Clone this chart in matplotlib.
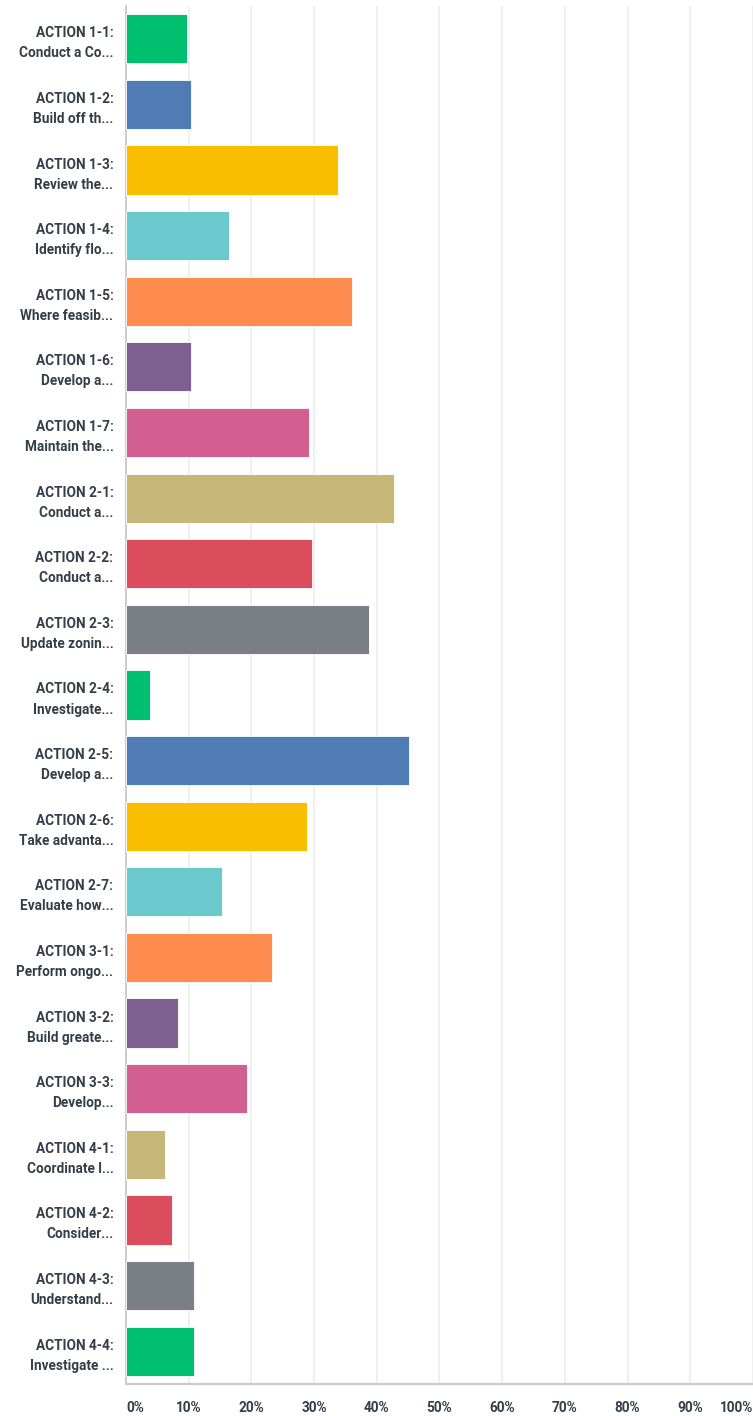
import numpy as np
import matplotlib
matplotlib.use("Agg")
import matplotlib.pyplot as plt

# answer choices (two-line labels) and share of respondents in percent
actions = ["ACTION 1-1:", "ACTION 1-2:", "ACTION 1-3:", "ACTION 1-4:", "ACTION 1-5:",
           "ACTION 1-6:", "ACTION 1-7:", "ACTION 2-1:", "ACTION 2-2:", "ACTION 2-3:",
           "ACTION 2-4:", "ACTION 2-5:", "ACTION 2-6:", "ACTION 2-7:", "ACTION 3-1:",
           "ACTION 3-2:", "ACTION 3-3:", "ACTION 4-1:", "ACTION 4-2:", "ACTION 4-3:",
           "ACTION 4-4:"]
details = ["Conduct a Co...", "Build off th...", "Review the...", "Identify flo...",
           "Where feasib...", "Develop a...", "Maintain the...", "Conduct a...",
           "Conduct a...", "Update zonin...", "Investigate...", "Develop a...",
           "Take advanta...", "Evaluate how...", "Perform ongo...", "Build greate...",
           "Develop...", "Coordinate l...", "Consider...", "Understand...",
           "Investigate ..."]
percent = [9.8, 10.3, 33.8, 16.4, 36.1, 10.3, 29.2, 42.8, 29.7, 38.8, 3.9,
           45.1, 28.9, 15.3, 23.3, 8.3, 19.3, 6.3, 7.4, 10.9, 10.9]
ticks = [0, 10, 20, 30, 40, 50, 60, 70, 80, 90, 100]

palette = ["#00bf6f", "#507cb6", "#f9be00", "#6bc8cd", "#ff8b4f",
           "#7f5f90", "#d25f90", "#c7b879", "#db4d5c", "#7a8085"]
colors = [palette[i % len(palette)] for i in range(len(percent))]

plt.rcParams['font.family'] = ['Roboto', 'DejaVu Sans']
txt = "#333e48"

fig = plt.figure(figsize=(7.53, 14.16), dpi=100)
ax = fig.add_axes([0.1673, 0.0226, 0.8327, 0.9732])

y = np.arange(len(percent))
ax.barh(y, percent, height=0.75, color=colors, edgecolor="white", linewidth=0.6, zorder=3)
ax.set_ylim(len(percent) - 0.5, -0.5)
ax.set_xlim(0, 100)

ax.set_xticks(ticks)
ax.grid(axis="x", color="#ececec", linewidth=1.2, zorder=0)
ax.tick_params(length=0)
ax.set_yticks(y)
ax.set_yticklabels([a + "\n" + d for a, d in zip(actions, details)],
                   fontsize=9.8, fontweight="bold", color=txt, linespacing=1.55)
ax.tick_params(axis="y", pad=9)

labels = ax.set_xticklabels([f"{t}%" for t in ticks], fontsize=9.8,
                            fontweight="bold", color=txt)
labels[0].set_ha("left")
labels[-1].set_ha("right")
ax.tick_params(axis="x", pad=12)

for side in ["top", "right"]:
    ax.spines[side].set_visible(False)
ax.spines["left"].set_color("#c4c4c4")
ax.spines["left"].set_linewidth(1.2)
ax.spines["bottom"].set_color("#cbcbcb")
ax.spines["bottom"].set_linewidth(1.6)

fig.savefig("out.png", dpi=100, facecolor="white")
